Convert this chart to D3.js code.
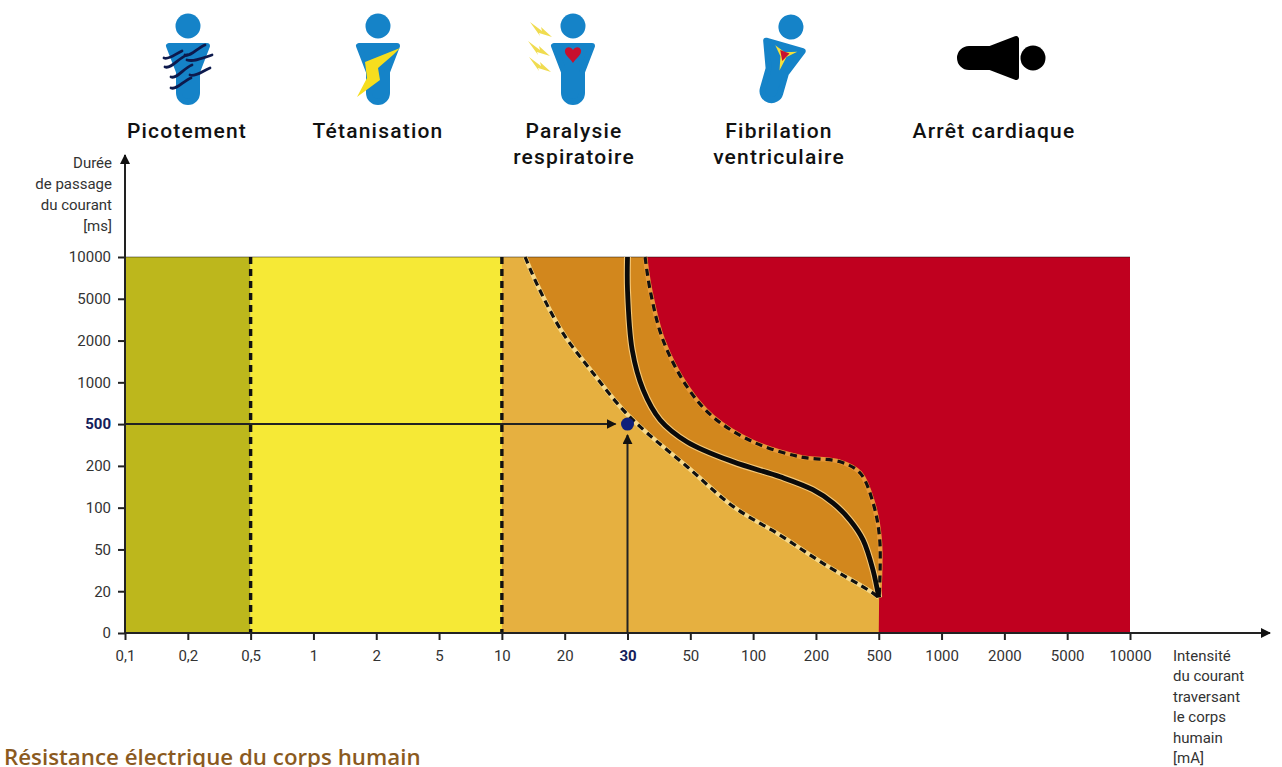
<!DOCTYPE html>
<html>

<head>
  <meta charset="utf-8">
  <script src="https://cdn.jsdelivr.net/npm/d3@7"></script>
  <style>
    html, body { margin: 0; padding: 0; background: #fff; overflow: hidden; }
    svg { display: block; font-family: Roboto, sans-serif; }
    .axis path, .axis line { stroke: #222; stroke-width: 2; }
    .axis text { font-size: 15px; fill: #333; font-family: Roboto, sans-serif; }
  </style>
</head>

<body>
  <script>
    // tick labels, evenly spaced in the original even though the values are not
    const xLabels = ['0,1', '0,2', '0,5', '1', '2', '5', '10', '20', '30', '50', '100', '200', '500', '1000', '2000', '5000', '10000']
    const yLabels = ['10000', '5000', '2000', '1000', '500', '200', '100', '50', '20', '0']
    const xValues = xLabels.map(s => +s.replace(',', '.'))
    const yValues = yLabels.map(Number)

    const bandFrom = [0.1, 0.5]
    const bandTo = [0.5, 10]
    const bandColors = ['#bdb71c', '#f6e936']

    // [mA, ms]
    const lowerCurve = [[13.7, 10000], [15.8, 6410], [19.7, 2545], [24.5, 1225], [29.3, 670], [36.2, 437], [49, 198], [84, 103], [143, 67], [234, 40], [459, 20], [500, 17]]
    const middleCurve = [[30, 10000], [30, 6050], [31.5, 1775], [35, 909], [40.4, 550], [49, 372], [84, 229], [143, 174], [195, 143], [282, 111], [363, 85], [425, 61.5], [473, 35], [500, 17]]
    const upperCurve = [[35.6, 10000], [37.2, 6050], [41.3, 2040], [49, 945], [68, 586], [100, 372], [175, 265], [316, 229], [411, 183], [473, 111], [508, 61.5], [503, 17]]
    const markerMa = 30
    const markerMs = 500

    const symptoms = [
      { lines: ['Picotement'], x: 187 },
      { lines: ['Tétanisation'], x: 378 },
      { lines: ['Paralysie', 'respiratoire'], x: 574 },
      { lines: ['Fibrilation', 'ventriculaire'], x: 779 },
      { lines: ['Arrêt cardiaque'], x: 994 }
    ]

    const plotLeft = 125, plotRight = 1130, plotTop = 257, plotBottom = 633

    const svg = d3.select('body').append('svg').attr('width', 1282).attr('height', 767)

    const xPoint = d3.scalePoint().domain(xLabels).range([plotLeft, plotRight])
    const yPoint = d3.scalePoint().domain(yLabels).range([plotTop, plotBottom])
    // piecewise scales so that the curves can be given in real units
    const x = d3.scaleLinear().domain(xValues).range(xLabels.map(d => xPoint(d)))
    const y = d3.scaleLinear().domain(yValues).range(yLabels.map(d => yPoint(d)))

    const line = d3.line().x(d => x(d[0])).y(d => y(d[1])).curve(d3.curveCatmullRom.alpha(0.5))

    const plot = svg.append('g')

    // red goes under everything, the orange shapes are cut out of it
    plot.append('rect').attr('x', x(10)).attr('y', plotTop).attr('width', plotRight - x(10)).attr('height', plotBottom - plotTop).attr('fill', '#c0001f')

    bandColors.forEach((color, i) => {
      plot.append('rect')
        .attr('x', x(bandFrom[i])).attr('y', plotTop)
        .attr('width', x(bandTo[i]) - x(bandFrom[i])).attr('height', plotBottom - plotTop)
        .attr('fill', color)
    })

    plot.append('path')
      .attr('d', line(upperCurve) + `L${x(500)},${y(0)}L${x(10)},${y(0)}L${x(10)},${y(10000)}Z`)
      .attr('fill', '#e6b040')

    const lowerBack = line(lowerCurve.slice().reverse()).replace('M', 'L')
    plot.append('path').attr('d', line(upperCurve) + lowerBack + 'Z').attr('fill', '#d2871d')

    plot.append('line').attr('x1', plotLeft).attr('x2', plotRight).attr('y1', plotTop).attr('y2', plotTop)
      .attr('stroke', '#000').attr('stroke-opacity', 0.45).attr('stroke-width', 1)

    function curve(points, color, width, dash) {
      return plot.append('path').attr('d', line(points)).attr('fill', 'none')
        .attr('stroke', color).attr('stroke-width', width).attr('stroke-dasharray', dash)
    }

    // pale edge around the curves
    curve(lowerCurve, '#f7d98a', 4.5)
    curve(upperCurve, '#e89a3a', 4.5)
    curve(middleCurve, '#f5c878', 7)
    curve(lowerCurve, '#111', 3.2, '7 5')
    curve(upperCurve, '#111', 3.2, '7 5')
    curve(middleCurve, '#0a0a0a', 4.8)

    ;[0.5, 10].forEach(v => {
      plot.append('line').attr('x1', x(v)).attr('x2', x(v)).attr('y1', plotTop).attr('y2', plotBottom)
        .attr('stroke', '#111').attr('stroke-width', 3.4).attr('stroke-dasharray', '7 5')
    })

    // axes
    const xAxis = svg.append('g').attr('class', 'axis').attr('transform', `translate(0,${plotBottom})`)
      .call(d3.axisBottom(xPoint).tickSize(7).tickSizeOuter(0).tickPadding(10))
    const yAxis = svg.append('g').attr('class', 'axis').attr('transform', `translate(${plotLeft},0)`)
      .call(d3.axisLeft(yPoint).tickSize(7).tickSizeOuter(0).tickPadding(7))
    xAxis.select('.domain').remove()
    yAxis.select('.domain').remove()

    xAxis.selectAll('text').filter(d => d == '30').attr('font-weight', 700).style('fill', '#14205a')
    yAxis.selectAll('text').filter(d => d == '500').attr('font-weight', 700).style('fill', '#14205a')

    const defs = svg.append('defs')
    defs.append('marker').attr('id', 'head').attr('viewBox', '0 0 10 10').attr('refX', 9).attr('refY', 5)
      .attr('markerWidth', 10).attr('markerHeight', 10).attr('markerUnits', 'userSpaceOnUse').attr('orient', 'auto')
      .append('path').attr('d', 'M0,0L10,5L0,10Z').attr('fill', '#111')

    const arrow = (x1, y1, x2, y2, w) => svg.append('line')
      .attr('x1', x1).attr('y1', y1).attr('x2', x2).attr('y2', y2)
      .attr('stroke', '#222').attr('stroke-width', w).attr('marker-end', 'url(#head)')

    arrow(plotLeft, plotBottom, plotLeft, 155, 2)
    arrow(plotLeft, plotBottom, 1270, plotBottom, 2)
    arrow(plotLeft, y(markerMs), x(markerMa) - 12, y(markerMs), 2)
    arrow(x(markerMa), plotBottom, x(markerMa), y(markerMs) + 11, 2)
    svg.append('circle').attr('cx', x(markerMa)).attr('cy', y(markerMs)).attr('r', 6.5).attr('fill', '#10207a')

    function block(lines, xPos, yStart, step, anchor, size, weight, color, spacing) {
      lines.forEach((t, i) => {
        svg.append('text').text(t).attr('x', xPos).attr('y', yStart + i * step)
          .attr('text-anchor', anchor).attr('font-size', size).attr('font-weight', weight)
          .attr('fill', color).attr('letter-spacing', spacing || 0)
      })
    }

    block(['Durée', 'de passage', 'du courant', '[ms]'], 112, 168, 21, 'end', 15, 400, '#333')
    block(['Intensité', 'du courant', 'traversant', 'le corps', 'humain', '[mA]'], 1173, 661, 20.4, 'start', 15, 400, '#333')

    symptoms.forEach(s => block(s.lines, s.x, 138, 26, 'middle', 21, 500, '#111', 1.2))

    svg.append('text').text('Résistance électrique du corps humain')
      .attr('x', 4).attr('y', 765).attr('font-size', 22.3).attr('font-weight', 600)
      .attr('fill', '#8b5a1e').style('font-family', '"Open Sans", sans-serif')

    // pictograms
    const torso = 'M-19,2L19,2L9,28L9,49A9,9 0 0 1 -9,49L-9,28Z'

    function person(cx, cy, angle, color, headX, headY) {
      const g = svg.append('g').attr('transform', `translate(${cx},${cy}) rotate(${angle})`)
      g.append('path').attr('d', torso).attr('fill', color).attr('stroke', color)
        .attr('stroke-width', 6).attr('stroke-linejoin', 'round')
      g.append('circle').attr('cx', headX).attr('cy', headY).attr('r', 12.5).attr('fill', color)
      return g
    }

    const blue = '#1583c8'
    const p1 = person(188, 44, 0, blue, 0, -18)
    const wiggles = [[-3, 11, 17, 1], [-23, 23, -1, 11], [-1, 16, 24, 11], [-17, 33, 4, 21], [2, 31, 22, 24], [-17, 44, 3, 34], [-24, 14, -6, 7]]
    wiggles.forEach(w => {
      const dx = w[2] - w[0], dy = w[3] - w[1]
      p1.append('path')
        .attr('d', `M${w[0]},${w[1]}C${w[0] + dx * 0.3},${w[1] + 2} ${w[0] + dx * 0.6},${w[3] + 3} ${w[2]},${w[3]}`)
        .attr('fill', 'none').attr('stroke', '#0d1a4d').attr('stroke-width', 2.8).attr('stroke-linecap', 'round')
    })

    const p2 = person(378, 44, 0, blue, 0, -18)
    p2.append('path').attr('d', 'M22,4L-13,18L-11,34L-21,53L2,36L0,24L15,11Z').attr('fill', '#f6de1e')

    const p3 = person(573, 44, 0, blue, 0, -18)
    p3.append('path').attr('d', 'M0,19C-3,14 -9,11 -8,6C-6,2 -2,3 0,6C2,3 6,2 8,6C9,11 3,14 0,19Z').attr('fill', '#c8102e')
    ;[[-32, -14], [-34, 5], [-33, 21]].forEach(b => {
      p3.append('path').attr('d', 'M-11,-8L1,1L0,-3L11,7L-2,3L-1,6Z').attr('fill', '#f0dc50')
        .attr('transform', `translate(${b[0]},${b[1]})`)
    })

    const p4 = person(785, 44, 16, blue, 1, -18)
    p4.append('path').attr('d', 'M-9,4L2,8L14,4L5,12L2,27L-1,13Z').attr('fill', '#f4e03a')
    p4.append('path').attr('d', 'M-3,7L7,8L2,17Z').attr('fill', '#c8102e')

    person(1018, 58, 90, '#000', 0, -15)
  </script>
</body>

</html>
